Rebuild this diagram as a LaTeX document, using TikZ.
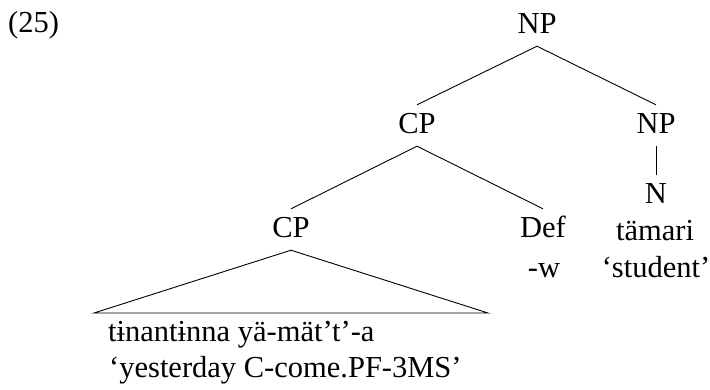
\documentclass[tikz,border=0pt]{standalone}
\usepackage{fontspec}
\setmainfont{Liberation Serif}
\usetikzlibrary{calc}
\begin{document}
\begin{tikzpicture}[x=1pt,y=-1pt,
  cat/.style={anchor=base,inner xsep=2pt,inner ysep=8pt,text height=20pt,text depth=5pt,font=\fontsize{30.5}{36}\selectfont},
  txt/.style={anchor=base,inner sep=0pt,font=\fontsize{30.5}{36}\selectfont},
  edge/.style={line width=0.9pt}]
\useasboundingbox (0,0) rectangle (710,389);
\node[txt,anchor=base west] (ex) at (8,32) {(25)};
\node[cat] (np) at (537,33) {NP};
\node[cat] (cp) at (417,133) {CP};
\node[cat] (np2) at (656,133) {NP};
\node[cat] (cp2) at (291,237) {CP};
\node[cat] (def) at (543,237) {Def};
\node[txt] (w) at (544,277) {-w};
\node[cat] (n) at (656,203) {N};
\node[txt] (tam) at (655,240) {tämari};
\node[txt] (stu) at (656,277) {‘student’};
\coordinate (bl) at (94,313);
\coordinate (br) at (488,313);
\node[txt,anchor=base west] (l1) at (108,341) {tɨnantɨnna yä-mät’t’-a};
\node[txt,anchor=base west] (l2) at (109,377) {‘yesterday C-come.PF-3MS’};
\draw[edge] (cp.north) -- (np.south) -- (np2.north);
\draw[edge] (cp2.north) -- (cp.south) -- (def.north);
\draw[edge] (np2.south) -- (n.north);
\draw[edge] (bl) -- (cp2.south) -- (br) -- cycle;
\end{tikzpicture}
\end{document}
